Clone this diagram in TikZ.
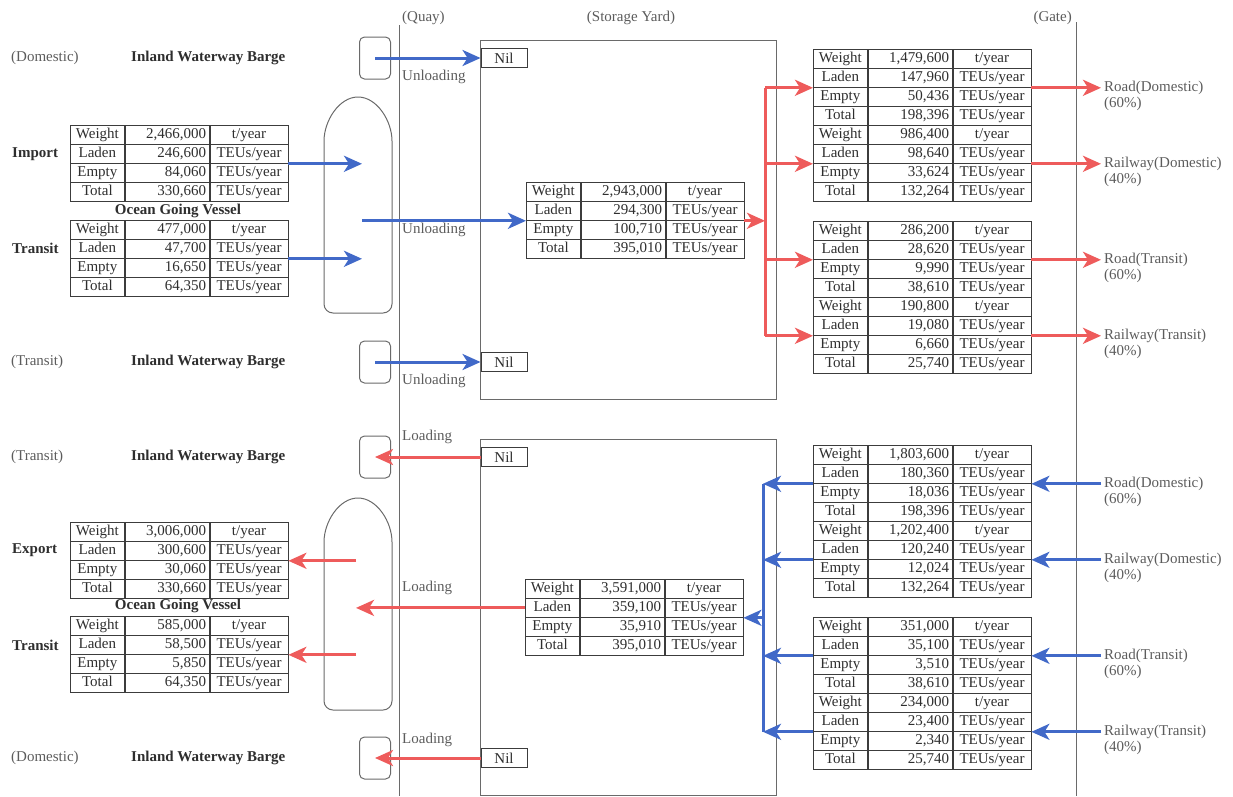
\documentclass[tikz,border=0pt]{standalone}
\usepackage{fontspec}
\setmainfont{Liberation Serif}
\usetikzlibrary{positioning,arrows.meta,calc}
\definecolor{flowIn}{HTML}{4169C8}
\definecolor{flowOut}{HTML}{EE5B5B}
\definecolor{yardLine}{HTML}{6A6A6A}
\definecolor{cellLine}{HTML}{3C3C3C}
\definecolor{ink}{HTML}{2E2E2E}
\definecolor{inkSoft}{HTML}{5C5C5C}
\newcommand{\txtfont}{\fontsize{15}{16}\selectfont}
\tikzset{
  cell/.style={draw=cellLine, line width=0.8pt, anchor=north west, inner sep=0pt,
    minimum height=19pt, text height=10.5pt, text depth=3.5pt, font=\txtfont, text=ink},
  lbcell/.style={cell, minimum width=54pt},
  valcell/.style={cell, text width=78pt, align=right, inner xsep=3pt},
  unitcell/.style={cell, minimum width=78pt},
  head/.style={font=\txtfont, text=inkSoft, inner sep=1pt},
  lbl/.style={font=\txtfont, text=inkSoft, inner sep=1pt, anchor=west},
  lblb/.style={font=\txtfont\bfseries, text=ink, inner sep=1pt},
  dest/.style={font=\txtfont, text=inkSoft, inner xsep=3pt, inner ysep=1pt, anchor=west},
  sepline/.style={draw=yardLine, line width=0.9pt},
  yardbox/.style={draw=yardLine, line width=0.9pt, anchor=north west, inner sep=0pt},
  barge/.style={draw=yardLine, line width=1pt, rounded corners=5pt,
    minimum width=31pt, minimum height=42pt, inner sep=0pt},
  nilbox/.style={draw=cellLine, line width=0.9pt, minimum width=46pt,
    minimum height=19pt, inner sep=0pt, font=\txtfont, text=ink},
  vessel/.style={draw=yardLine, line width=1pt, rounded corners=9pt},
  inflow/.style={draw=flowIn, line width=3pt, -{Stealth[length=18pt,width=16pt,inset=5pt]}},
  outflow/.style={draw=flowOut, line width=3pt, -{Stealth[length=18pt,width=16pt,inset=5pt]}},
  spineIn/.style={draw=flowIn, line width=3pt},
  spineOut/.style={draw=flowOut, line width=3pt},
}
\newcommand{\ty}{t/year}
\newcommand{\teu}{TEUs/year}
% one Weight/Laden/Empty/Total block: name, top left, four values
\newcommand{\flowtab}[6]{%
  \coordinate (#1) at (#2);
  \foreach \lb/\vl/\un [count=\rw] in {Weight/{#3}/\ty, Laden/{#4}/\teu,
      Empty/{#5}/\teu, Total/{#6}/\teu} {
    \node[lbcell]   (#1-\rw-l) at ($(#1)+(0,19*\rw-19)$) {\lb};
    \node[valcell]  (#1-\rw-v) at (#1-\rw-l.north east) {\vl};
    \node[unitcell] (#1-\rw-u) at (#1-\rw-v.north east) {\un};
  }
}

\begin{document}
\begin{tikzpicture}[x=1pt,y=-1pt]
\useasboundingbox (0,0) rectangle (1233,796);

\draw[sepline] (399,25) -- (399,796);
\draw[sepline] (1076,22) -- (1076,796);
\node[head, anchor=west] (quay) at (401,18) {(Quay)};
\node[head] (yard) at (631,18) {(Storage Yard)};
\node[head, anchor=east] (gate) at (1073,18) {(Gate)};
\node[yardbox, minimum width=296pt, minimum height=359pt] (yardU) at (480,40) {};
\node[yardbox, minimum width=296pt, minimum height=356pt] (yardL) at (480,439) {};

\coordinate (vesU) at (362,205);
\coordinate (vesL) at (356,605);
\coordinate (spineU) at (765,0);
\coordinate (spineL) at (763,0);
\coordinate (gateX) at (1101,0);

% ocean going vessels
\draw[vessel] (358,97) .. controls (377,97) and (392,121) .. (392,150) -- (392,313)
  -- (324,313) -- (324,150) .. controls (324,121) and (339,97) .. (358,97);
\draw[vessel] (358,498) .. controls (377,498) and (392,522) .. (392,551) -- (392,710)
  -- (324,710) -- (324,551) .. controls (324,522) and (339,498) .. (358,498);

% inland waterway barges
\foreach \nm/\kind/\y in {A/Domestic/58, B/Transit/362, C/Transit/457, D/Domestic/758} {
  \node[lbl] (kd\nm) at (10,\y) {(\kind)};
  \node[lblb, anchor=west] (iwb\nm) at (130,\y) {Inland Waterway Barge};
  \node[barge] (bg\nm) at (375,\y) {};
  \node[nilbox] (nil\nm) at (504,\y) {Nil};
}
\draw[inflow] (bgA.center) -- (nilA.west);
\draw[inflow] (bgB.center) -- (nilB.west);
\draw[outflow] (nilC.west) -- (bgC.center);
\draw[outflow] (nilD.west) -- (bgD.center);

\node[lbl] (ulA) at (401,77) {Unloading};
\node[lbl] (ulB) at (401,230) {Unloading};
\node[lbl] (ulC) at (401,381) {Unloading};
\node[lbl] (ldA) at (401,437) {Loading};
\node[lbl] (ldB) at (401,588) {Loading};
\node[lbl] (ldC) at (401,740) {Loading};

% vessel side
\flowtab{impU}{70,125}{2,466,000}{246,600}{84,060}{330,660}
\flowtab{trnU}{70,220}{477,000}{47,700}{16,650}{64,350}
\flowtab{expL}{70,522}{3,006,000}{300,600}{30,060}{330,660}
\flowtab{trnL}{70,616}{585,000}{58,500}{5,850}{64,350}
\node[lblb] (ogvU) at (178,211) {Ocean Going Vessel};
\node[lblb] (ogvL) at (178,606) {Ocean Going Vessel};
\node[lblb, anchor=west] (impT) at (11,154) {Import};
\node[lblb, anchor=west] (trnUT) at (11,248) {Transit};
\node[lblb, anchor=west] (expT) at (11,550) {Export};
\node[lblb, anchor=west] (trnLT) at (11,645) {Transit};

\draw[inflow] (impU-2-u.south east) -- (impU-2-u.south east -| vesU);
\draw[inflow] (trnU-2-u.south east) -- (trnU-2-u.south east -| vesU);
\draw[outflow] (vesL |- expL-2-u.south east) -- (expL-2-u.south east);
\draw[outflow] (vesL |- trnL-2-u.south east) -- (trnL-2-u.south east);

% storage yard
\flowtab{cenU}{526,182}{2,943,000}{294,300}{100,710}{395,010}
\flowtab{cenL}{525,579}{3,591,000}{359,100}{35,910}{395,010}
\draw[inflow] (vesU |- cenU-2-l.south west) -- (cenU-2-l.south west);
\draw[outflow] (cenL-2-l.west) -- (cenL-2-l.west -| vesL);

% gate side
\flowtab{upRoadD}{813,49}{1,479,600}{147,960}{50,436}{198,396}
\flowtab{upRailD}{813,125}{986,400}{98,640}{33,624}{132,264}
\flowtab{upRoadT}{813,221}{286,200}{28,620}{9,990}{38,610}
\flowtab{upRailT}{813,297}{190,800}{19,080}{6,660}{25,740}
\flowtab{loRoadD}{813,445}{1,803,600}{180,360}{18,036}{198,396}
\flowtab{loRailD}{813,521}{1,202,400}{120,240}{12,024}{132,264}
\flowtab{loRoadT}{813,617}{351,000}{35,100}{3,510}{38,610}
\flowtab{loRailT}{813,693}{234,000}{23,400}{2,340}{25,740}

\draw[outflow] (cenU-2-u.south east) -- (cenU-2-u.south east -| spineU);
\draw[spineOut] (spineU |- upRoadD-2-l.south west) -- (spineU |- upRailT-2-l.south west);
\foreach \tb/\txt/\pc [count=\i] in {upRoadD/Road(Domestic)/60, upRailD/Railway(Domestic)/40,
    upRoadT/Road(Transit)/60, upRailT/Railway(Transit)/40} {
  \node[dest] (dU\i) at (gateX |- \tb-2-u.south east) {\txt};
  \node[dest, below=0pt of dU\i.south west, anchor=north west] (pU\i) {(\pc\%)};
  \draw[outflow] (spineU |- \tb-2-l.south west) -- (\tb-2-l.south west);
  \draw[outflow] (\tb-2-u.south east) -- (dU\i.west);
}

\draw[spineIn] (spineL |- loRoadD-2-l.south west) -- (spineL |- loRailT-2-l.south west);
\draw[inflow] (spineL |- cenL-2-u.south east) -- (cenL-2-u.south east);
\foreach \tb/\txt/\pc [count=\i] in {loRoadD/Road(Domestic)/60, loRailD/Railway(Domestic)/40,
    loRoadT/Road(Transit)/60, loRailT/Railway(Transit)/40} {
  \node[dest] (dL\i) at (gateX |- \tb-2-u.south east) {\txt};
  \node[dest, below=0pt of dL\i.south west, anchor=north west] (pL\i) {(\pc\%)};
  \draw[inflow] (\tb-2-l.south west) -- (spineL |- \tb-2-l.south west);
  \draw[inflow] (dL\i.west) -- (\tb-2-u.south east);
}

\end{tikzpicture}
\end{document}
